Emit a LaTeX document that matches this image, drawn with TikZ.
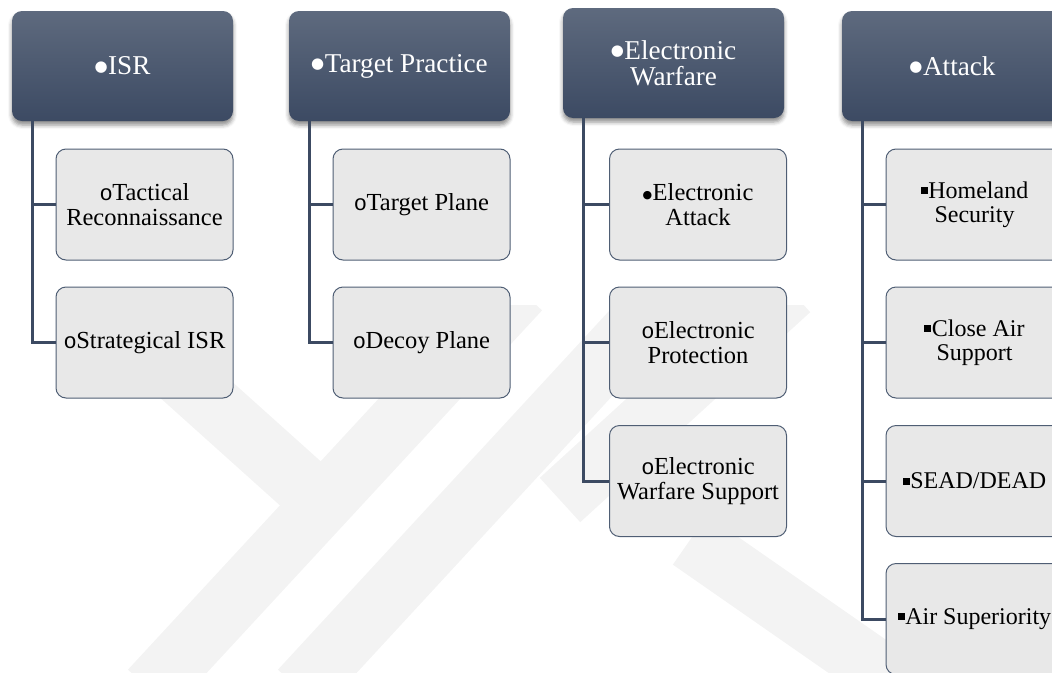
\documentclass[tikz,border=0pt]{standalone}
\usepackage{fontspec}
\setmainfont{Liberation Serif}
\newfontfamily\monof{Liberation Mono}
\newfontfamily\symf{DejaVu Sans}
\usetikzlibrary{shadows.blur}

\definecolor{hdtop}{HTML}{5E6A7E}
\definecolor{hdbot}{HTML}{3C4A63}
\definecolor{linkc}{HTML}{3C4A62}
\definecolor{subfill}{HTML}{E8E8E8}
\definecolor{subline}{HTML}{4F5E74}
\definecolor{wmark}{HTML}{F3F3F3}

% bullet marks of the three outline levels
\newcommand\hbul{\raisebox{3.5pt}{\symf\fontsize{15}{15}\selectfont ●}\kern0.5pt}
\newcommand\dbul{\raisebox{2.5pt}{\symf\fontsize{11}{11}\selectfont ●}\kern0.5pt}
\newcommand\obul{{\monof\fontsize{22}{22}\selectfont o}\kern-0.5pt}
\newcommand\sbul{\raisebox{4pt}{\rule{7pt}{7pt}}\kern0.5pt}

\tikzset{
  header/.style={rectangle, rounded corners=10pt, minimum width=221pt,
    minimum height=110pt, top color=hdtop, bottom color=hdbot, draw=none,
    text=white, align=center, inner sep=0pt,
    font=\fontsize{27.2}{26}\selectfont,
    blur shadow={shadow xshift=0pt, shadow yshift=-4pt,
      shadow blur radius=4pt, shadow opacity=45}},
  subbox/.style={rectangle, rounded corners=10pt, minimum width=177pt,
    minimum height=111pt, fill=subfill, draw=subline, line width=1pt,
    align=center, inner sep=0pt, text=black,
    font=\fontsize{24.5}{24.5}\selectfont},
  attackbox/.style={subbox, font=\fontsize{24}{24.3}\selectfont},
  link/.style={draw=linkc, line width=3pt},
  wm/.style={draw=wmark, line width=60pt},
}

\begin{document}
\begin{tikzpicture}[x=1pt, y=-1pt]
\useasboundingbox (0,0) rectangle (1052,672);
\clip (0,0) rectangle (1052,672);

% faint background emblem
\begin{scope}
  \clip (0,305) rectangle (1052,672);
  \draw[wm] (85,290) -- (330,510);
  \draw[wm] (520,290) -- (150,690);
  \draw[wm] (660,300) -- (300,690);
  \draw[wm] (790,290) -- (560,500);
  \draw[wm] (690,540) -- (920,700);
\end{scope}

% top-level categories
\node[header] (h1) at (122.5,66) {\hbul ISR};
\node[header] (h2) at (399.5,66) {\hbul Target Practice};
\node[header] (h3) at (673.5,63) {\hbul Electronic\\Warfare};
\node[header] (h4) at (952.5,66) {\hbul Attack};

% sub-items
\node[subbox] (c11) at (144.5,204.5) {\obul Tactical\\Reconnaissance};
\node[subbox] (c12) at (144.5,342.5) {\obul Strategical ISR};

\node[subbox] (c21) at (421.5,204.5) {\obul Target Plane};
\node[subbox] (c22) at (421.5,342.5) {\obul Decoy Plane};

\node[subbox] (c31) at (698,204.5) {\dbul Electronic\\Attack};
\node[subbox] (c32) at (698,342.5) {\obul Electronic\\Protection};
\node[subbox] (c33) at (698,481) {\obul Electronic\\Warfare Support};

\node[attackbox] (c41) at (974.5,204.5) {\sbul Homeland\\Security};
\node[attackbox] (c42) at (974.5,342.5) {\sbul Close Air\\Support};
\node[attackbox] (c43) at (974.5,481) {\sbul SEAD/DEAD};
\node[attackbox] (c44) at (974.5,619) {\sbul Air Superiority};

% tree connectors
\foreach \h/\c in {h1/c11, h1/c12, h2/c21, h2/c22, h3/c31, h3/c32, h3/c33,
                   h4/c41, h4/c42, h4/c43, h4/c44}
  \draw[link] ([xshift=21pt]\h.south west) |- (\c.west);
\end{tikzpicture}
\end{document}
